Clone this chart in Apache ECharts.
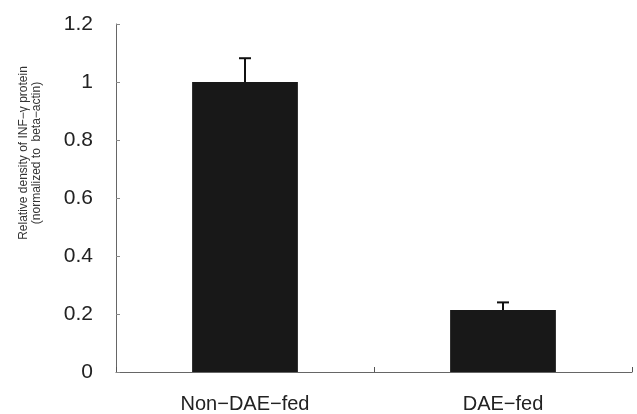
<!DOCTYPE html>
<html>
<head>
<meta charset="utf-8">
<script src="https://cdn.jsdelivr.net/npm/echarts@6/dist/echarts.min.js"></script>
<style>
  html, body { margin: 0; padding: 0; background: #fff; }
  #main { width: 637px; height: 414px; }
</style>
</head>
<body>
<div id="main"></div>
<script>
// data
var groups = ['Non\u2212DAE\u2212fed', 'DAE\u2212fed'];
var means = [1.0, 0.214];
var errTop = [1.082, 0.24];
var yTicks = [0, 0.2, 0.4, 0.6, 0.8, 1, 1.2];

var chart = echarts.init(document.getElementById('main'), null, { renderer: 'canvas' });

var errData = groups.map(function (g, i) { return [i, means[i], errTop[i]]; });

var option = {
  animation: false,
  backgroundColor: '#fff',
  grid: { left: 116, right: 5, top: 24, bottom: 42 },
  xAxis: {
    type: 'category',
    data: groups,
    axisLine: { lineStyle: { color: '#666', width: 1 } },
    axisTick: { show: true, inside: true, length: 5, lineStyle: { color: '#555' } },
    axisLabel: {
      margin: 22,
      fontFamily: 'Liberation Sans, Arial, sans-serif',
      fontSize: 20,
      color: '#222'
    }
  },
  yAxis: {
    type: 'value',
    min: 0,
    max: 1.2,
    interval: 0.2,
    axisLine: { show: true, lineStyle: { color: '#666', width: 1 } },
    axisTick: { show: true, inside: true, length: 4, lineStyle: { color: '#888' } },
    splitLine: { show: false },
    axisLabel: {
      margin: 23,
      fontFamily: 'Liberation Sans, Arial, sans-serif',
      fontSize: 21,
      color: '#222',
      formatter: function (v) {
        var t = yTicks.find(function (x) { return Math.abs(x - v) < 1e-6; });
        return t === undefined ? '' : String(t);
      }
    }
  },
  graphic: [{
    type: 'text',
    x: 30,
    y: 153,
    rotation: Math.PI / 2,
    style: {
      text: 'Relative density of INF\u2212\u03b3 protein\n(normalized to  beta\u2212actin)',
      font: '12px "Liberation Sans", Arial, sans-serif',
      fill: '#333',
      align: 'center',
      verticalAlign: 'middle',
      lineHeight: 13
    }
  }],
  series: [
    {
      type: 'bar',
      data: means,
      barWidth: '41%',
      itemStyle: { color: '#181818' },
      z: 2
    },
    {
      type: 'custom',
      data: errData,
      z: 3,
      renderItem: function (params, api) {
        var x = api.value(0);
        var base = api.coord([x, api.value(1)]);
        var top = api.coord([x, api.value(2)]);
        var cap = 6;
        return {
          type: 'group',
          children: [
            { type: 'line', shape: { x1: base[0], y1: base[1], x2: top[0], y2: top[1] },
              style: { stroke: '#111', lineWidth: 2 } },
            { type: 'line', shape: { x1: top[0] - cap, y1: top[1], x2: top[0] + cap, y2: top[1] },
              style: { stroke: '#111', lineWidth: 2 } }
          ]
        };
      }
    }
  ]
};

chart.setOption(option);
</script>
</body>
</html>
